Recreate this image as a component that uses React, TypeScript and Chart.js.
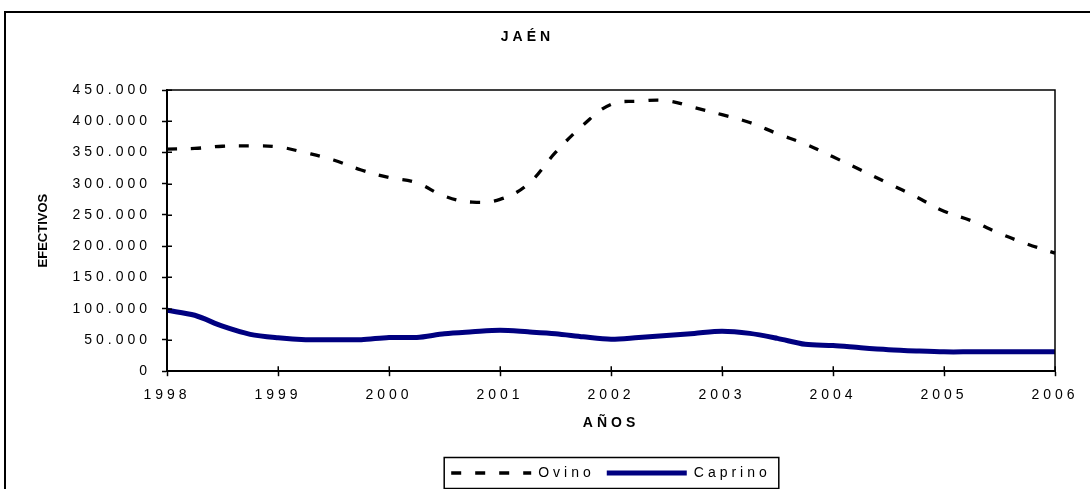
import React, { useEffect, useRef } from 'react';
import { Chart, registerables } from 'chart.js';

Chart.register(...registerables);

// ---- data ----
const yearLabels = ['1998', '1999', '2000', '2001', '2002', '2003', '2004', '2005', '2006'];
const quartersPerYear = 4;

const ovino = [
  355500, 356500, 360000, 360500,
  359000, 349500, 338000, 322000,
  310000, 301500, 280000, 270500,
  275000, 299000, 350000, 394000,
  427000, 432000, 433000, 422000,
  410500, 398000, 380000, 363500,
  343000, 322000, 300500, 279000,
  256000, 240500, 220500, 203500,
  189000,
];

const caprino = [
  97500, 89500, 72000, 59000,
  53500, 50500, 50500, 50500,
  54000, 54000, 60000, 63000,
  65500, 63000, 60000, 55000,
  51000, 54000, 57000, 60500,
  64000, 60500, 52500, 43000,
  41000, 37500, 34500, 32500,
  31000, 31000, 31000, 31000,
  31000,
];

const yMin = 0;
const yMax = 450000;
const yStep = 50000;

const chartTitle = 'JAÉN';
const xTitle = 'AÑOS';
const yTitle = 'EFECTIVOS';
const seriesNames = ['Ovino', 'Caprino'];

// category slots: year label at each year start, blanks for the other quarters
const categories: string[] = [];
yearLabels.forEach((y, i) => {
  categories.push(y);
  if (i < yearLabels.length - 1) {
    for (let q = 1; q < quartersPerYear; q++) categories.push('');
  }
});

const FONT = "'Liberation Sans', Arial, sans-serif";
const SPACING = '4px';

const fmt = (v: number) => String(Math.round(v)).replace(/\B(?=(\d{3})+(?!\d))/g, '.');

const setSpacing = (chart: any) => {
  (chart.ctx as any).letterSpacing = SPACING;
};

const decorPlugin = {
  id: 'decor',
  beforeUpdate(chart: any) { setSpacing(chart); },
  beforeLayout(chart: any) { setSpacing(chart); },
  beforeDraw(chart: any) {
    setSpacing(chart);
    const ctx = chart.ctx;
    ctx.save();
    ctx.strokeStyle = '#000';
    ctx.lineWidth = 2;
    ctx.beginPath();
    ctx.moveTo(5, 2000);
    ctx.lineTo(5, 12);
    ctx.lineTo(3000, 12);
    ctx.stroke();
    ctx.restore();
  },
  afterDraw(chart: any) {
    const ctx = chart.ctx;
    const { left, right, top, bottom } = chart.chartArea;
    ctx.save();
    ctx.strokeStyle = '#000';
    // plot frame (top & right)
    ctx.lineWidth = 1.5;
    ctx.strokeRect(left, top, right - left, bottom - top);
    // inward halves of the crossing tick marks
    const ys = chart.scales.y;
    ctx.lineWidth = 1.5;
    ctx.beginPath();
    ys.ticks.forEach((t: any) => {
      const py = Math.round(ys.getPixelForValue(t.value)) + 0.25;
      ctx.moveTo(left, py);
      ctx.lineTo(left + 5, py);
    });
    const xs = chart.scales.x;
    categories.forEach((c, i) => {
      if (!c) return;
      const px = Math.round(xs.getPixelForValue(i)) + 0.25;
      ctx.moveTo(px, bottom);
      ctx.lineTo(px, bottom - 5);
    });
    ctx.stroke();
    // y axis title (no letter spacing)
    ctx.letterSpacing = '0px';
    ctx.fillStyle = '#000';
    ctx.font = `bold 13px ${FONT}`;
    ctx.textAlign = 'center';
    ctx.textBaseline = 'middle';
    ctx.translate(43, (top + bottom) / 2);
    ctx.rotate(-Math.PI / 2);
    ctx.fillText(yTitle, 0, 0);
    ctx.restore();
    // legend box
    const lg = chart.legend;
    if (lg && lg.legendHitBoxes && lg.legendHitBoxes.length) {
      const hb = lg.legendHitBoxes;
      const first = hb[0];
      const last = hb[hb.length - 1];
      const cy = first.top + 7;
      ctx.save();
      ctx.strokeStyle = '#000';
      ctx.lineWidth = 1.5;
      ctx.strokeRect(first.left - 7, cy - 15.5, last.left + last.width + 8 - (first.left - 7), 31);
      ctx.restore();
    }
  },
};

export default function App() {
  const ref = useRef<HTMLCanvasElement | null>(null);

  useEffect(() => {
    if (!ref.current) return;
    Chart.defaults.color = '#000';
    const defaultGen = (Chart.defaults as any).plugins.legend.labels.generateLabels;
    const chart = new Chart(ref.current, {
      type: 'line',
      data: {
        labels: categories,
        datasets: [
          {
            label: seriesNames[0],
            data: ovino,
            borderColor: '#000000',
            backgroundColor: '#000000',
            borderWidth: 3.3,
            borderDash: [10, 14],
            pointRadius: 0,
            tension: 0.4,
            fill: false,
          },
          {
            label: seriesNames[1],
            data: caprino,
            borderColor: '#000080',
            backgroundColor: '#000080',
            borderWidth: 5,
            pointRadius: 0,
            tension: 0.3,
            fill: false,
          },
        ],
      },
      options: {
        responsive: false,
        animation: false,
        events: [],
        layout: { padding: { left: 0, right: 51, top: 0, bottom: 0 } },
        plugins: {
          title: {
            display: true,
            text: chartTitle,
            color: '#000',
            font: { family: FONT, size: 14, weight: 'bold' },
            padding: { top: 28.3, bottom: 44.9 },
          },
          legend: {
            display: true,
            position: 'bottom',
            fullSize: false,
            labels: {
              color: '#000',
              font: { family: FONT, size: 14 },
              usePointStyle: true,
              pointStyle: 'line',
              pointStyleWidth: 80,
              padding: 12,
              generateLabels: (ch: any) => {
                const items = defaultGen(ch);
                return items.map((it: any) => {
                  const ds = ch.data.datasets[it.datasetIndex];
                  return {
                    ...it,
                    pointStyle: 'line',
                    lineDash: ds.borderDash || [],
                    lineDashOffset: 0,
                    lineWidth: ds.borderWidth,
                    strokeStyle: ds.borderColor,
                    fillStyle: ds.borderColor,
                    lineCap: 'butt',
                  };
                });
              },
            },
          },
          tooltip: { enabled: false },
        },
        scales: {
          x: {
            type: 'category',
            offset: false,
            grid: {
              display: true,
              drawOnChartArea: false,
              drawTicks: true,
              tickLength: 5,
              tickWidth: 1.5,
              tickColor: (c: any) => (categories[c.index] ? '#000' : 'rgba(0,0,0,0)'),
              color: '#000',
            },
            border: { display: true, color: '#000', width: 2 },
            ticks: {
              autoSkip: false,
              maxRotation: 0,
              minRotation: 0,
              padding: 11,
              color: '#000',
              font: { family: FONT, size: 14 },
              callback: (_v: any, i: number) => categories[i],
            },
            title: {
              display: true,
              text: xTitle,
              color: '#000',
              font: { family: FONT, size: 14, weight: 'bold' },
              padding: { top: 0, bottom: 22.2 },
            },
          },
          y: {
            min: yMin,
            max: yMax,
            grid: {
              display: true,
              drawOnChartArea: false,
              drawTicks: true,
              tickLength: 5,
              tickWidth: 1.5,
              tickColor: '#000',
              color: '#000',
            },
            border: { display: true, color: '#000', width: 2 },
            ticks: {
              stepSize: yStep,
              padding: 11,
              color: '#000',
              font: { family: FONT, size: 14 },
              callback: (v: any) => fmt(Number(v)),
            },
            afterFit: (scale: any) => {
              scale.width = 167;
            },
          },
        },
      },
      plugins: [decorPlugin],
    } as any);
    return () => chart.destroy();
  }, []);

  return (
    <div
      style={{
        position: 'fixed',
        left: 0,
        top: 0,
        width: 1090,
        height: 489,
        overflow: 'hidden',
        background: '#fff',
      }}
    >
      <canvas ref={ref} width={1106} height={490} style={{ display: 'block' }} />
    </div>
  );
}
